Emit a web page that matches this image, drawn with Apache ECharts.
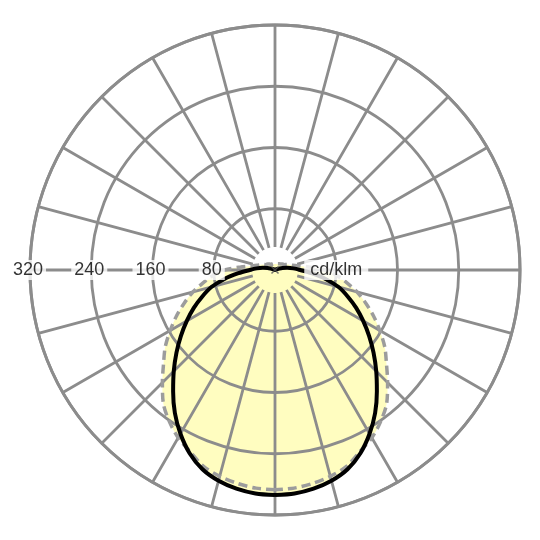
<!DOCTYPE html>
<html>
    <head>
        <meta charset="utf-8">
        <script src="https://cdn.jsdelivr.net/npm/echarts@6/dist/echarts.min.js"></script>
        <style>
            html, body {margin: 0; padding: 0; background: #fff;}
            #main {width: 540px; height: 540px;}
        </style>
    </head>
    <body>
        <div id="main"></div>

        <script>

            // gamma angle from nadir, degrees (0 = straight down)
            var gamma = [
                0, 5, 10, 15, 20, 25, 30, 35, 40, 45, 50, 55, 60, 65, 70, 75, 80, 85, 90,
                95, 100, 105, 110, 115, 120, 125, 130, 135, 140, 145, 150, 155, 160, 165, 170, 175, 180
            ];
            // C0-C180 plane (solid black), cd/klm
            var planeC0 = [
                294, 293, 290, 285, 277, 264, 247, 228, 207, 187, 168, 150, 133, 117, 101, 86, 67, 48, 33,
                24, 16, 10, 5, 3, 1, 0, 0, 0, 0, 0, 0, 0, 0, 0, 0, 0, 0
            ];
            // C90-C270 plane (grey dashed), cd/klm
            var planeC90 = [
                287, 286, 283, 279, 273, 262, 253, 241, 227, 208, 190, 175, 158, 142, 126, 111, 95, 81, 66,
                45, 31, 24, 20, 17, 14, 13, 12, 11, 10, 10, 9, 9, 8, 8, 8, 8, 8
            ];
            var ringTicks = [80, 160, 240, 320];
            var unitText = 'cd/klm';

            // one closed loop: left half goes up from nadir, right half comes back down
            function loop(values) {
                var out = [];
                for (var i = 0; i < gamma.length; i++) {
                    out.push([values[i], gamma[i]]);
                }
                for (var j = gamma.length - 2; j >= 0; j--) {
                    out.push([values[j], 360 - gamma[j]]);
                }
                return out;
            }

            var gridColor = '#8c8c8c';
            var fillColor = '#fffdc0';
            var center = [275, 270];

            var chart = echarts.init(document.getElementById('main'));

            chart.setOption({
                animation: false,
                polar: [
                    {center: center, radius: [23, 245]},
                    {center: center, radius: [0, 245]}
                ],
                angleAxis: [
                    {
                        polarIndex: 0,
                        type: 'value',
                        min: 0,
                        max: 360,
                        interval: 15,
                        startAngle: 270,
                        clockwise: true,
                        z: 3,
                        axisLine: {show: false},
                        axisTick: {show: false},
                        axisLabel: {show: false},
                        splitLine: {lineStyle: {color: gridColor, width: 2.8}}
                    },
                    {
                        polarIndex: 1,
                        type: 'value',
                        min: 0,
                        max: 360,
                        startAngle: 270,
                        clockwise: true,
                        z: 3,
                        axisLine: {lineStyle: {color: gridColor, width: 3}},
                        axisTick: {show: false},
                        axisLabel: {show: false},
                        splitLine: {show: false}
                    }
                ],
                radiusAxis: [
                    {
                        polarIndex: 0,
                        min: 0,
                        max: 320,
                        z: 3,
                        axisLine: {show: false},
                        axisTick: {show: false},
                        axisLabel: {show: false},
                        splitLine: {show: false}
                    },
                    {
                        polarIndex: 1,
                        min: 0,
                        max: 320,
                        interval: 80,
                        z: 3,
                        axisLine: {show: false},
                        axisTick: {show: false},
                        axisLabel: {show: false},
                        splitLine: {lineStyle: {color: gridColor, width: 2.8}}
                    }
                ],
                series: [
                    {
                        type: 'line',
                        coordinateSystem: 'polar',
                        polarIndex: 1,
                        z: 1,
                        silent: true,
                        smooth: 0.3,
                        showSymbol: false,
                        lineStyle: {width: 0},
                        areaStyle: {color: fillColor, opacity: 1},
                        data: loop(planeC90)
                    },
                    {
                        type: 'line',
                        coordinateSystem: 'polar',
                        polarIndex: 1,
                        z: 1,
                        silent: true,
                        smooth: 0.3,
                        showSymbol: false,
                        lineStyle: {width: 0},
                        areaStyle: {color: fillColor, opacity: 1},
                        data: loop(planeC0)
                    },
                    {
                        type: 'line',
                        coordinateSystem: 'polar',
                        polarIndex: 1,
                        z: 5,
                        silent: true,
                        smooth: 0.3,
                        showSymbol: false,
                        lineStyle: {color: '#9c9c9c', width: 3.5, type: [9, 5]},
                        data: loop(planeC90)
                    },
                    {
                        type: 'line',
                        coordinateSystem: 'polar',
                        polarIndex: 1,
                        z: 6,
                        silent: true,
                        smooth: 0.3,
                        showSymbol: false,
                        lineStyle: {color: '#000', width: 4},
                        data: loop(planeC0)
                    },
                    {
                        // scale labels on the left horizontal
                        type: 'scatter',
                        coordinateSystem: 'polar',
                        polarIndex: 1,
                        z: 10,
                        silent: true,
                        symbolSize: 0,
                        label: {
                            show: true,
                            position: 'inside',
                            offset: [-2, 0],
                            formatter: function (p) { return String(p.value[0]); },
                            color: '#000',
                            fontSize: 18,
                            fontFamily: 'Liberation Sans',
                            backgroundColor: '#fff',
                            padding: [1, 3]
                        },
                        data: ringTicks.map(function (v) { return [v, 90]; })
                    },
                    {
                        type: 'scatter',
                        coordinateSystem: 'polar',
                        polarIndex: 1,
                        z: 10,
                        silent: true,
                        symbolSize: 0,
                        label: {
                            show: true,
                            position: 'inside',
                            formatter: unitText,
                            color: '#000',
                            fontSize: 18,
                            fontFamily: 'Liberation Sans',
                            backgroundColor: '#fff',
                            padding: [1, 6]
                        },
                        data: [[ringTicks[0], 270]]
                    },
                    {
                        // centre mark
                        type: 'scatter',
                        coordinateSystem: 'polar',
                        polarIndex: 1,
                        z: 7,
                        silent: true,
                        symbol: 'path://M0,0L10,10M10,0L0,10',
                        symbolSize: 7,
                        itemStyle: {color: 'none', borderColor: '#555', borderWidth: 1.5},
                        data: [[0, 0]]
                    }
                ]
            });

        </script>
    </body>
</html>
